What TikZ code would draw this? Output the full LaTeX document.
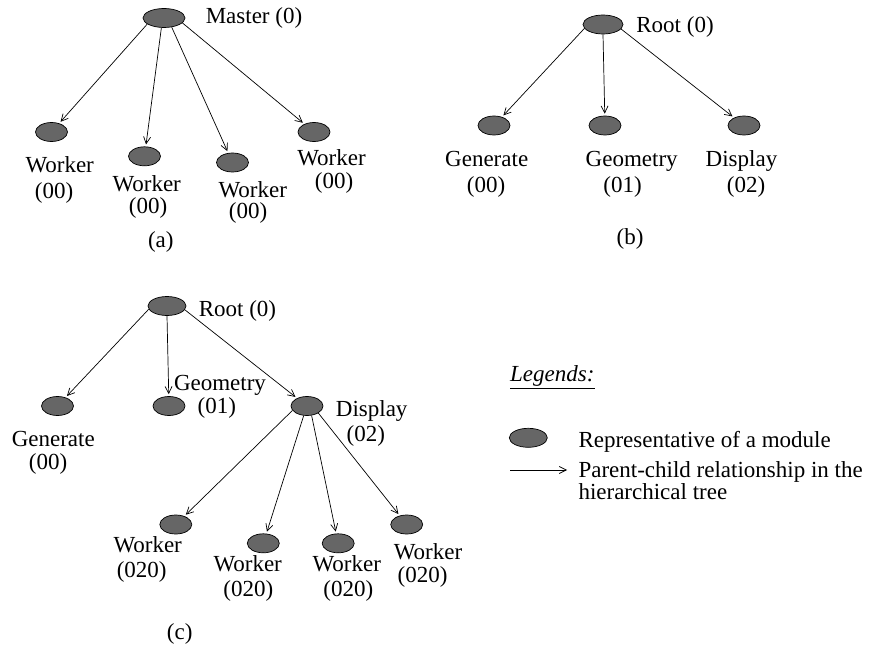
\documentclass[tikz,border=0pt]{standalone}
\usepackage{fontspec}
\setmainfont{Liberation Serif}
\usetikzlibrary{shapes.geometric,arrows.meta}

\tikzset{
  mod/.style={ellipse, draw=black, line width=0.7bp, fill=black!60,
    inner sep=0pt, minimum width=32bp, minimum height=19bp},
  rootmod/.style={mod, minimum width=42bp},
  lbl/.style={inner sep=0pt, anchor=base, font=\fontsize{23bp}{27bp}\selectfont},
  lgtext/.style={lbl, anchor=base west},
  arr/.style={line width=0.7bp, -{Straight Barb[length=7bp,width=7bp]}},
  edge/.style={arr, shorten >=2bp},
}

\begin{document}
\begin{tikzpicture}[x=1bp, y=-1bp]
\useasboundingbox (0,0) rectangle (875,647);

% ---------- (a) master / worker tree ----------
\node[rootmod] (ma) at (164,18) {};
\node[mod] (a1) at (51.5,132) {};
\node[mod] (a2) at (144.5,156.3) {};
\node[mod] (a3) at (232.5,162.5) {};
\node[mod] (a4) at (314,132) {};

\draw[edge] (ma.200) -- (a1);
\draw[edge] (ma.255) -- (a2);
\draw[edge] (ma.310) -- (a3);
\draw[edge] (ma.345) -- (a4);

\node[lbl] (ma-t) at (254,23.3) {Master (0)};
\node[lbl] (a1-t) at (59.7,173) {Worker};
\node[lbl] (a1-n) at (54,199) {(00)};
\node[lbl] (a2-t) at (146.7,191.5) {Worker};
\node[lbl] (a2-n) at (148,213.5) {(00)};
\node[lbl] (a3-t) at (252.8,197.5) {Worker};
\node[lbl] (a3-n) at (248,219) {(00)};
\node[lbl] (a4-t) at (331.5,166) {Worker};
\node[lbl] (a4-n) at (334,188.5) {(00)};
\node[lbl] (cap-a) at (160.8,248) {(a)};

% ---------- (b) root with three modules ----------
\node[rootmod, minimum width=40bp] (rb) at (603,24.5) {};
\node[mod] (b1) at (494,125.5) {};
\node[mod] (b2) at (605,125.5) {};
\node[mod] (b3) at (744,125.5) {};

\draw[edge] (rb.192) -- (b1);
\draw[edge] (rb.south) -- (b2);
\draw[edge] (rb.346) -- (b3);

\node[lbl] (rb-t) at (675,33) {Root (0)};
\node[lbl] (b1-t) at (486.7,166.7) {Generate};
\node[lbl] (b1-n) at (486,192.5) {(00)};
\node[lbl] (b2-t) at (631.7,166.7) {Geometry};
\node[lbl] (b2-n) at (622.5,192.5) {(01)};
\node[lbl] (b3-t) at (741.5,166.7) {Display};
\node[lbl] (b3-n) at (746,192.5) {(02)};
\node[lbl] (cap-b) at (630,245) {(b)};

% ---------- (c) root, modules and display workers ----------
\node[rootmod, minimum width=38bp] (rc) at (167,306) {};
\node[mod] (c1) at (57.5,406) {};
\node[mod] (c2) at (169,406) {};
\node[mod] (c3) at (307,406) {};
\node[mod] (c31) at (175.8,524.5) {};
\node[mod] (c32) at (263.3,543.3) {};
\node[mod] (c33) at (338.2,543.3) {};
\node[mod] (c34) at (406.7,524.5) {};

\draw[edge] (rc.190) -- (c1);
\draw[edge] (rc.south) -- (c2);
\draw[edge] (rc.348) -- (c3);
\draw[edge] (c3.197) -- (c31);
\draw[edge] (c3.251) -- (c32);
\draw[edge] (c3.296) -- (c33);
\draw[edge] (c3.328) -- (c34);

\node[lbl] (rc-t) at (237.5,316) {Root (0)};
\node[lbl] (c1-t) at (53.3,446.7) {Generate};
\node[lbl] (c1-n) at (48,469) {(00)};
\node[lbl] (c2-t) at (220,390) {Geometry};
\node[lbl] (c2-n) at (216.8,413) {(01)};
\node[lbl] (c3-t) at (371.7,416.7) {Display};
\node[lbl] (c3-n) at (365.8,441) {(02)};
\node[lbl] (c31-t) at (147.7,552.7) {Worker};
\node[lbl] (c31-n) at (141.7,577) {(020)};
\node[lbl] (c32-t) at (247.7,571.7) {Worker};
\node[lbl] (c32-n) at (248.3,596) {(020)};
\node[lbl] (c33-t) at (346.7,571.7) {Worker};
\node[lbl] (c33-n) at (348.3,596) {(020)};
\node[lbl] (c34-t) at (428,559.3) {Worker};
\node[lbl] (c34-n) at (422.5,582) {(020)};
\node[lbl] (cap-c) at (179.7,639) {(c)};

% ---------- legend ----------
\node[lgtext] (lg-title) at (510,381.7) {\underline{\textit{Legends:}}};
\node[mod, minimum width=38bp] (lg-mod) at (528.3,437.8) {};
\node[lgtext] (lg-mod-t) at (578.3,447.3) {Representative of a module};
\coordinate (lg-a) at (510,470);
\coordinate (lg-b) at (567,470);
\draw[arr] (lg-a) -- (lg-b);
\node[lgtext] (lg-arr-t1) at (578.3,477.5) {Parent-child relationship in the};
\node[lgtext] (lg-arr-t2) at (578.3,499.5) {hierarchical tree};
\end{tikzpicture}
\end{document}
